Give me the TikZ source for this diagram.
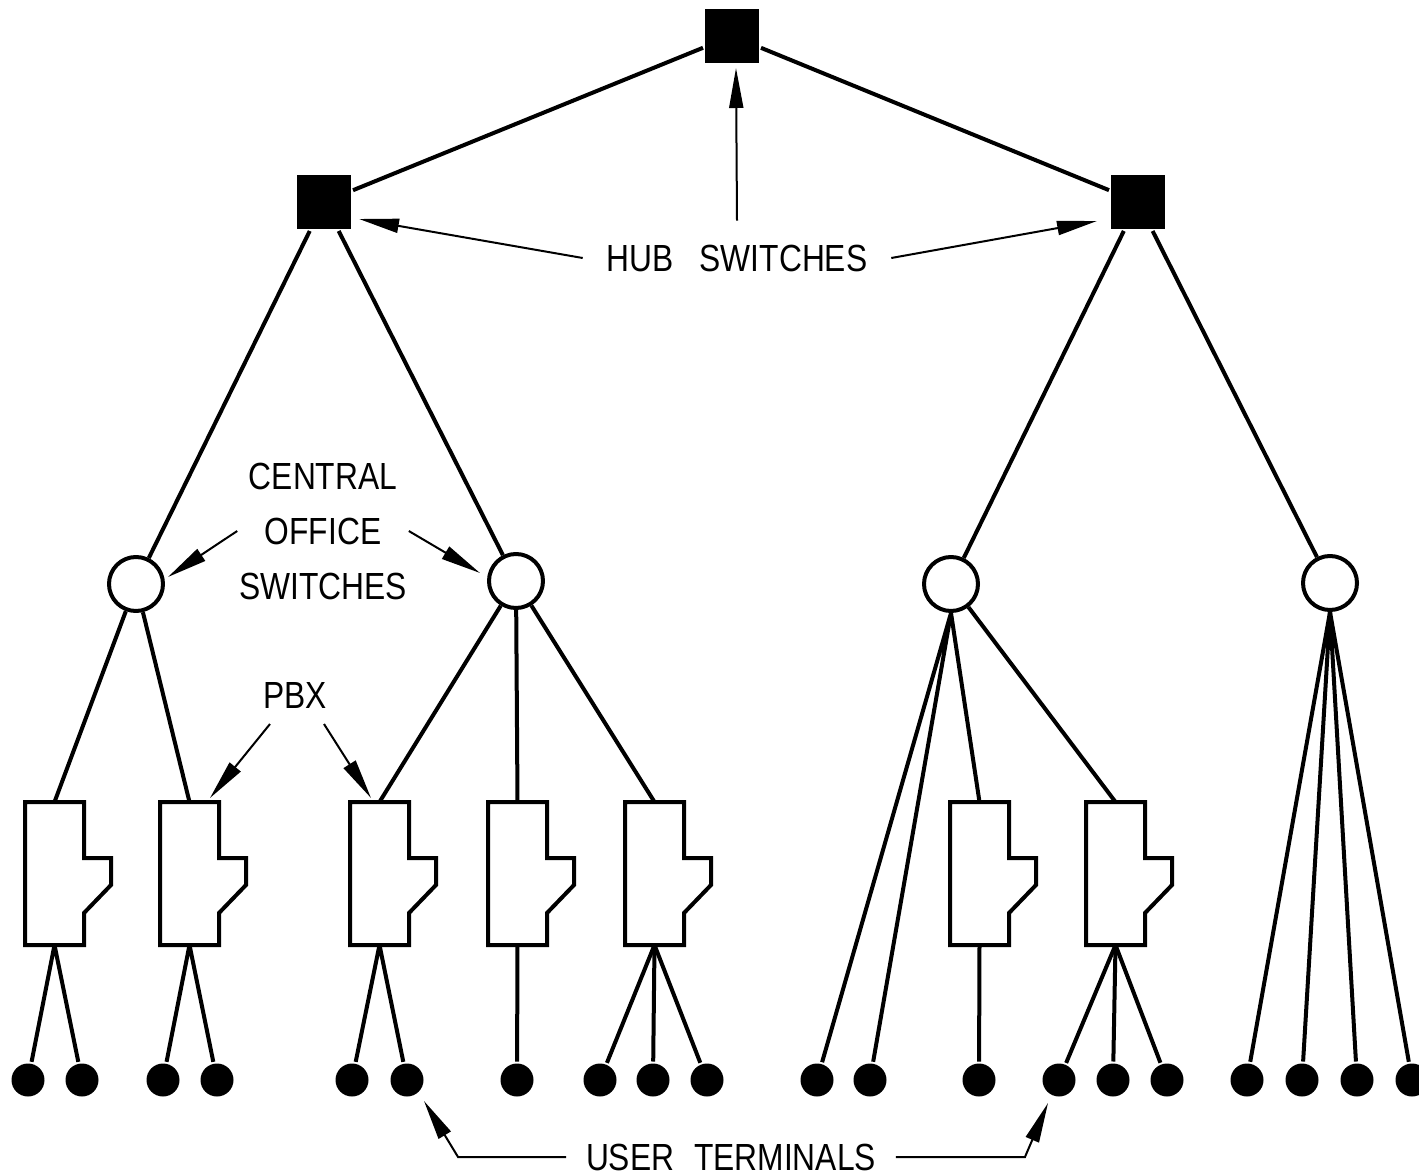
\documentclass[tikz,border=0pt]{standalone}
\usepackage{fontspec}
\newfontfamily\cadfont[FakeStretch=0.84]{Liberation Sans}
\usetikzlibrary{arrows.meta,calc,positioning}

\begin{document}
\begin{tikzpicture}[x=0.5pt,y=-0.5pt,line width=2pt,line join=round,
hub/.style={rectangle,fill,minimum size=27pt,inner sep=0},
co/.style={circle,draw,minimum size=27pt,inner sep=0},
pbx/.style={rectangle,minimum width=27.5pt,minimum height=69.5pt,inner sep=0},
term/.style={circle,fill,minimum size=16.5pt,inner sep=0},
lbl/.style={font=\cadfont\fontsize{18.9}{27.5}\selectfont,align=center,inner sep=0},
arw/.style={line width=1pt,line join=miter,-{Triangle[length=20pt,width=7pt]}}]
\useasboundingbox (0,0) rectangle (1419,1176);
\node[hub] (H1) at (732,36) {};
\node[hub] (H2) at (324,202) {};
\node[hub] (H3) at (1138,202) {};
\node[co] (C1) at (136,584) {};
\node[co] (C2) at (516,581) {};
\node[co] (C3) at (951,584) {};
\node[co] (C4) at (1330,583) {};
\foreach \n/\x in {1/54.5,2/189.5,3/379.5,4/517.5,5/654.5,6/979.5,7/1115.5}
  \node[pbx] (P\n) at (\x,873.5) {};
\foreach \n in {1,...,7}
  \draw[line join=miter] (P\n.north west) -- (P\n.north east) -- ++(0,56) -- ++(27,0)
    -- ++(0,27) -- ++(-27,28) -- (P\n.south east) -- (P\n.south west) -- cycle;
\foreach \n/\x in {1/28,2/82,3/163,4/217,5/352,6/407,7/517,8/600,9/653,10/707,
  11/817,12/870,13/979,14/1059,15/1113,16/1167,17/1247,18/1302,19/1357,20/1412}
  \node[term] (T\n) at (\x,1080) {};
\draw (H2)--(H1)--(H3);
\draw (C1)--(H2)--(C2);
\draw (C3)--(H3)--(C4);
\draw (P1.north)--(C1)--(P2.north);
\draw (P3.north)--(C2)--(P5.north);
\draw (C2)--(P4.north);
\draw (T11)--(C3.south)--(T12);
\draw (C3.south)--(P6.north);
\draw (C3)--(P7.north);
\foreach \n in {17,...,20} \draw (C4.south)--(T\n);
\draw (T1)--(P1.south)--(T2);
\draw (T3)--(P2.south)--(T4);
\draw (T5)--(P3.south)--(T6);
\draw (P4.south)--(T7);
\foreach \n in {8,9,10} \draw (P5.south)--(T\n);
\draw (P6.south)--(T13);
\foreach \n in {14,15,16} \draw (P7.south)--(T\n);
\coordinate (h1tip) at (736,68);
\coordinate (h2tip) at (359,219);
\coordinate (h3tip) at (1097,221);
\coordinate (c1tip) at (168,577);
\coordinate (c2tip) at (480,573);
\coordinate (p2tip) at (210,798);
\coordinate (p3tip) at (371,798);
\coordinate (t6tip) at (424,1101);
\coordinate (t14tip) at (1048,1103);
\node[lbl,inner xsep=11pt,inner ysep=11pt] (hubs) at (737,258) {HUB\hspace{13pt}SWITCHES};
\draw[arw] (hubs.north)--(h1tip);
\draw[arw] (hubs.west)--(h2tip);
\draw[arw] (hubs.east)--(h3tip);
\node[lbl] (cos) at (323,531) {CENTRAL\\OFFICE\\SWITCHES};
\draw[arw] (cos.west)--(c1tip);
\draw[arw] (cos.east)--(c2tip);
\node[lbl,inner ysep=7pt] (pbxs) at (295,695) {PBX};
\draw[arw] ([xshift=-12.5pt]pbxs.south)--(p2tip);
\draw[arw] ([xshift=14.5pt]pbxs.south)--(p3tip);
\node[lbl,inner xsep=9pt] (users) at (731,1157) {USER\hspace{10pt}TERMINALS};
\draw[arw] (users.west)--++(-108,0)--(t6tip);
\draw[arw] (users.east)--++(129,0)--(t14tip);
\end{tikzpicture}
\end{document}
